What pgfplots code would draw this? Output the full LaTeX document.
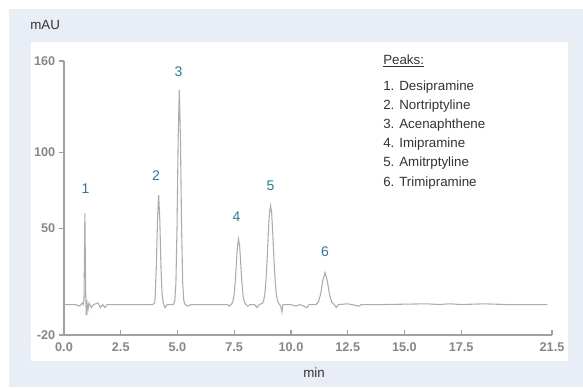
\documentclass[border=0pt]{standalone}
\usepackage{pgfplots}
\pgfplotsset{compat=1.18}
\usepackage{fontspec}
\setmainfont{Liberation Sans}
\definecolor{panel}{HTML}{E8EDF6}
\definecolor{axgray}{HTML}{A89E9E}
\definecolor{sig}{HTML}{B3A9A9}
\definecolor{ticklab}{HTML}{8E8484}
\definecolor{peakblue}{HTML}{2A7AAA}
\definecolor{txt}{HTML}{333333}
\begin{document}
\begin{tikzpicture}[x=0.75pt,y=-0.75pt]
% canvas and panels (pixel coordinates)
\fill[white] (0,0) rectangle (583,387);
\fill[panel] (9,9) rectangle (583,387);
\fill[white] (31,42) rectangle (568,361);
\node[anchor=west,font=\fontsize{10}{12}\selectfont,text=txt,inner sep=0] at (30,25) {mAU};
\node[anchor=center,font=\fontsize{10}{12}\selectfont,text=txt,inner sep=0] at (314,373) {min};
% legend of peaks
\begin{scope}[every node/.style={anchor=west,font=\fontsize{10}{12}\selectfont,text=txt,inner sep=0}]
\node at (383,61) {\underline{Peaks:}};
\node at (383,87) {1. Desipramine};
\node at (383,106) {2. Nortriptyline};
\node at (383,125) {3. Acenaphthene};
\node at (383,144) {4. Imipramine};
\node at (383,163) {5. Amitrptyline};
\node at (383,183) {6. Trimipramine};
\end{scope}
\begin{axis}[
  at={(48pt,-251.25pt)}, anchor=south west,
  scale only axis, width=366pt, height=205.5pt,
  xmin=0, xmax=21.5, ymin=-20, ymax=160,
  axis x line=bottom, axis y line=left,
  axis line style={axgray, line width=1.1pt, -},
  xtick={0,2.5,5,7.5,10,12.5,15,17.5,21.5},
  xticklabels={0.0,2.5,5.0,7.5,10.0,12.5,15.0,17.5,21.5},
  ytick={-20,50,100,160},
  yticklabels={-20,50,100,160},
  minor x tick num=4,
  minor y tick num=4,
  x tick style={axgray, line width=0.8pt},
  y tick style={axgray, line width=0.8pt},
  xtick align=inside, ytick align=outside,
  major tick length=4pt, minor tick length=2pt,
  tick label style={font=\fontsize{9.5}{10}\selectfont\bfseries, text=ticklab},
  xticklabel style={yshift=-2pt},
  yticklabel style={xshift=1pt},
  /pgf/number format/assume math mode=true,
  clip=false,
]
\addplot[sig, line width=0.8pt] coordinates {
(0.0,0) (0.5,0) (0.7,-1) (0.8,1) (0.85,0) (0.88,3) (0.90,30) (0.92,60) (0.94,30) (0.96,4) (0.98,-7) (1.0,3) (1.05,-4) (1.1,1) (1.2,-2) (1.3,0) (1.5,1) (1.6,-2) (1.7,0) (1.8,-2) (1.9,0)
(3.9,0) (3.95,0.5) (4.0,1.2) (4.02,7) (4.07,26) (4.12,56) (4.17,72) (4.22,56) (4.27,26) (4.32,7) (4.37,1.2) (4.45,-2) (4.55,0)
(4.8,0) (4.83,0.3) (4.88,2.4) (4.93,14) (4.98,51) (5.03,109) (5.08,141) (5.13,109) (5.18,51) (5.23,14) (5.28,2.4) (5.33,0.2) (5.45,-1) (5.6,0)
(7.2,0) (7.3,-1) (7.39,0.5) (7.44,1.9) (7.49,5.8) (7.54,14) (7.59,26) (7.64,38) (7.69,43) (7.74,38) (7.79,26) (7.84,14) (7.89,5.8) (7.94,1.9) (7.99,0.5) (8.1,-1) (8.2,0)
(8.4,0) (8.5,-2) (8.6,0) (8.75,0.9) (8.8,2.9) (8.85,7.4) (8.9,16) (8.95,30) (9.0,46) (9.05,60) (9.1,65) (9.15,60) (9.2,46) (9.25,30) (9.3,16) (9.35,7.4) (9.4,2.9) (9.45,0.9) (9.55,-1) (9.6,-5) (9.65,0)
(10.0,0) (10.2,-1) (10.4,0) (10.7,-2) (10.8,0)
(11.1,0) (11.2,1.5) (11.3,6.4) (11.4,15.6) (11.5,21) (11.6,15.6) (11.7,6.4) (11.8,1.5) (11.9,0) (12.0,-2) (12.1,0) (12.5,0.5) (13.0,-1) (13.1,0)
(14.0,0) (16.0,0.5) (16.5,0) (17.0,0.5) (17.5,0) (18.5,0.5) (19.5,0) (21.3,0)
};
\begin{scope}[every node/.style={font=\fontsize{10.5}{12}\selectfont, text=peakblue, inner sep=0}]
\node at (axis cs:0.95,76) {1};
\node at (axis cs:4.05,85) {2};
\node at (axis cs:5.05,153) {3};
\node at (axis cs:7.6,58) {4};
\node at (axis cs:9.1,78) {5};
\node at (axis cs:11.5,35) {6};
\end{scope}
\end{axis}
\end{tikzpicture}
\end{document}
